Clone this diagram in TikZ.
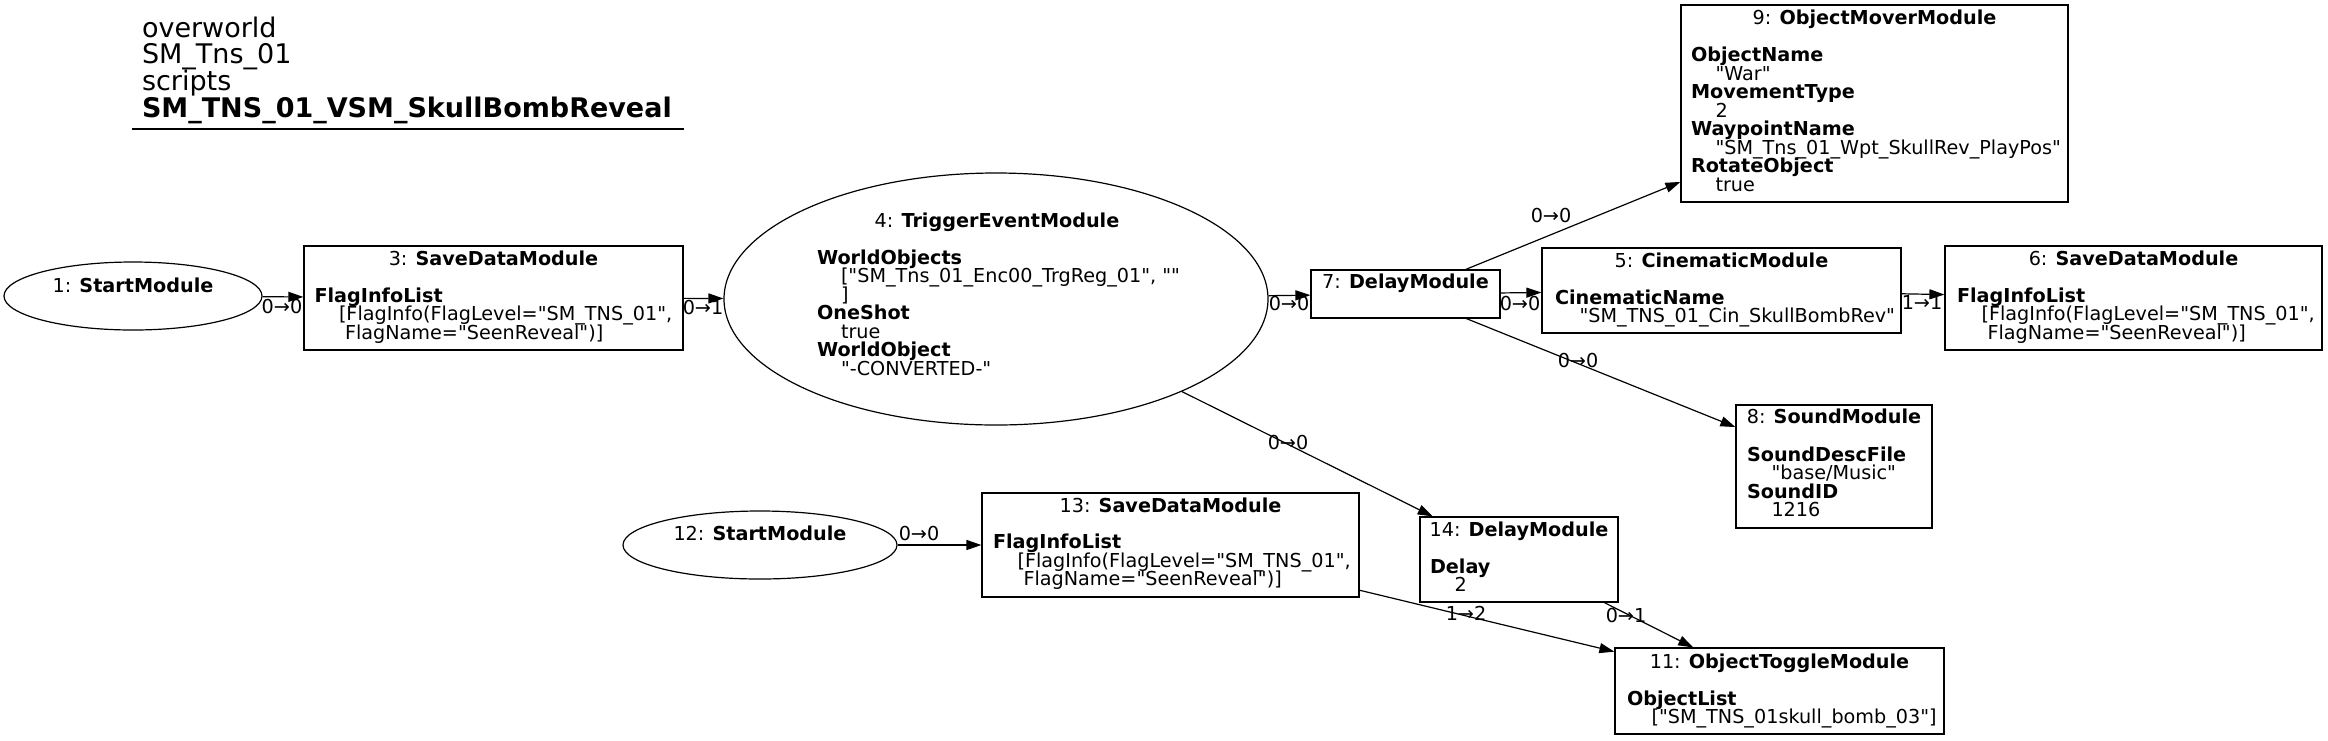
\documentclass[tikz,border=0pt]{standalone}
\usepackage{fontspec}
\setmainfont{DejaVu Sans}[Ligatures=TeXOff]
\usetikzlibrary{shapes.geometric,arrows.meta}
\tikzset{
  box/.style={draw, line width=1.2pt, rectangle, inner sep=0pt},
  ell/.style={draw, line width=1.2pt, ellipse, inner sep=0pt},
  tx/.style={inner sep=0pt, outer sep=0pt, font=\fontsize{19.2}{18.5}\selectfont},
  ttl/.style={inner sep=0pt, outer sep=0pt, anchor=base west, font=\fontsize{27}{26.7}\selectfont},
  edge/.style={line width=1.2pt, -{Triangle[length=15pt,width=10pt]}},
}
\newcommand\tlft[4]{\node[tx,anchor=base west] (#1) at (#2,#3) {#4};}
\newcommand\tctr[4]{\node[tx,anchor=base] (#1) at (#2,#3) {#4};}
\begin{document}
\begin{tikzpicture}[x=1pt,y=-1pt]
\fill[white] (0,0) rectangle (2328,740);
\useasboundingbox (0,0) rectangle (2328,740);

% title
\node[ttl] (h1) at (142,37) {overworld};
\node[ttl] (h2) at (142,63) {SM\_Tns\_01};
\node[ttl] (h3) at (142,90) {scripts};
\node[ttl] (h4) at (142,117) {\textbf{SM\_TNS\_01\_VSM\_SkullBombReveal}};
\coordinate (u1) at (132,129);
\coordinate (u2) at (684,129);
\draw[line width=1.2pt] (u1) -- (u2);

% shapes
\node[ell, minimum width=258pt, minimum height=68pt] (n1) at (133,296) {};
\node[box, minimum width=379pt, minimum height=104pt] (n3) at (493.5,298) {};
\node[ell, minimum width=544pt, minimum height=252pt] (n4) at (996,299) {};
\node[box, minimum width=189pt, minimum height=48pt] (n7) at (1405.5,294) {};
\node[box, minimum width=387pt, minimum height=197pt] (n9) at (1874.5,103.5) {};
\node[box, minimum width=359pt, minimum height=85pt] (n5) at (1721.5,290.5) {};
\node[box, minimum width=377pt, minimum height=104pt] (n6) at (2133.5,298) {};
\node[box, minimum width=196pt, minimum height=123pt] (n8) at (1834,466.5) {};
\node[ell, minimum width=274pt, minimum height=68pt] (n12) at (760,545) {};
\node[box, minimum width=377pt, minimum height=104pt] (n13) at (1170.5,545) {};
\node[box, minimum width=198pt, minimum height=85pt] (n14) at (1519,559.5) {};
\node[box, minimum width=329pt, minimum height=86pt] (n11) at (1779.5,691) {};

% node 1
\tctr{t1a}{133}{292}{1: \textbf{StartModule}}
% node 3
\tctr{t3a}{493.5}{265}{3: \textbf{SaveDataModule}}
\tlft{t3b}{314.5}{302}{\textbf{FlagInfoList}}
\tlft{t3c}{339}{320.5}{[FlagInfo(FlagLevel="SM\_TNS\_01",}
\tlft{t3d}{345}{339}{FlagName="SeenReveal")]}
% node 4
\tctr{t4a}{997}{227}{4: \textbf{TriggerEventModule}}
\tlft{t4b}{817}{264}{\textbf{WorldObjects}}
\tlft{t4c}{841}{282.5}{["SM\_Tns\_01\_Enc00\_TrgReg\_01", ""}
\tlft{t4d}{841}{301}{]}
\tlft{t4e}{817}{319.5}{\textbf{OneShot}}
\tlft{t4f}{841}{338}{true}
\tlft{t4g}{817}{356.5}{\textbf{WorldObject}}
\tlft{t4h}{841}{375}{"-CONVERTED-"}
% node 7
\tctr{t7a}{1405.5}{288}{7: \textbf{DelayModule}}
% node 9
\tctr{t9a}{1874.5}{24}{9: \textbf{ObjectMoverModule}}
\tlft{t9b}{1691}{61.5}{\textbf{ObjectName}}
\tlft{t9c}{1715.5}{80}{"War"}
\tlft{t9d}{1691}{98.5}{\textbf{MovementType}}
\tlft{t9e}{1715.5}{117}{2}
\tlft{t9f}{1691}{135.5}{\textbf{WaypointName}}
\tlft{t9g}{1715.5}{154}{"SM\_Tns\_01\_Wpt\_SkullRev\_PlayPos"}
\tlft{t9h}{1691}{172.5}{\textbf{RotateObject}}
\tlft{t9i}{1715.5}{191}{true}
% node 5
\tctr{t5a}{1721.5}{267}{5: \textbf{CinematicModule}}
\tlft{t5b}{1555}{304}{\textbf{CinematicName}}
\tlft{t5c}{1579.5}{322.5}{"SM\_TNS\_01\_Cin\_SkullBombRev"}
% node 6
\tctr{t6a}{2133.5}{265}{6: \textbf{SaveDataModule}}
\tlft{t6b}{1957}{302}{\textbf{FlagInfoList}}
\tlft{t6c}{1981.5}{320.5}{[FlagInfo(FlagLevel="SM\_TNS\_01",}
\tlft{t6d}{1987.5}{339}{FlagName="SeenReveal")]}
% node 8
\tctr{t8a}{1834}{423}{8: \textbf{SoundModule}}
\tlft{t8b}{1747}{461}{\textbf{SoundDescFile}}
\tlft{t8c}{1771.5}{479.5}{"base/Music"}
\tlft{t8d}{1747}{498}{\textbf{SoundID}}
\tlft{t8e}{1771.5}{516.5}{1216}
% node 12
\tctr{t12a}{760}{540}{12: \textbf{StartModule}}
% node 13
\tctr{t13a}{1170.5}{512}{13: \textbf{SaveDataModule}}
\tlft{t13b}{993}{548.5}{\textbf{FlagInfoList}}
\tlft{t13c}{1017.5}{567}{[FlagInfo(FlagLevel="SM\_TNS\_01",}
\tlft{t13d}{1023.5}{585.5}{FlagName="SeenReveal")]}
% node 14
\tctr{t14a}{1519}{536}{14: \textbf{DelayModule}}
\tlft{t14b}{1430}{573}{\textbf{Delay}}
\tlft{t14c}{1454.5}{591.5}{2}
% node 11
\tctr{t11a}{1779.5}{668}{11: \textbf{ObjectToggleModule}}
\tlft{t11b}{1627}{705}{\textbf{ObjectList}}
\tlft{t11c}{1651.5}{723.5}{["SM\_TNS\_01skull\_bomb\_03"]}

% edges
\draw[edge] (n1) -- (n3);
\draw[edge] (n3) -- (n4);
\draw[edge] (n4) -- (n7);
\draw[edge] (n7) -- (n5);
\draw[edge] (n5) -- (n6);
\draw[edge] (n7) -- (n9);
\draw[edge] (n7) -- (n8);
\draw[edge] (n4) -- (n14);
\draw[edge] (n12) -- (n13);
\draw[edge] (n13) -- (n11);
\draw[edge] (n14) -- (n11);

% edge labels
\tctr{l13}{282}{313}{0→0}
\tctr{l34}{703}{314}{0→1}
\tctr{l47}{1289}{310}{0→0}
\tctr{l75}{1520}{310}{0→0}
\tctr{l56}{1922}{309}{1→1}
\tctr{l79}{1551}{222}{0→0}
\tctr{l78}{1578}{367}{0→0}
\tctr{l414}{1288}{449}{0→0}
\tctr{l1213}{919}{540}{0→0}
\tctr{l1311}{1466}{620}{1→2}
\tctr{l1411}{1626}{622}{0→1}
\end{tikzpicture}
\end{document}
